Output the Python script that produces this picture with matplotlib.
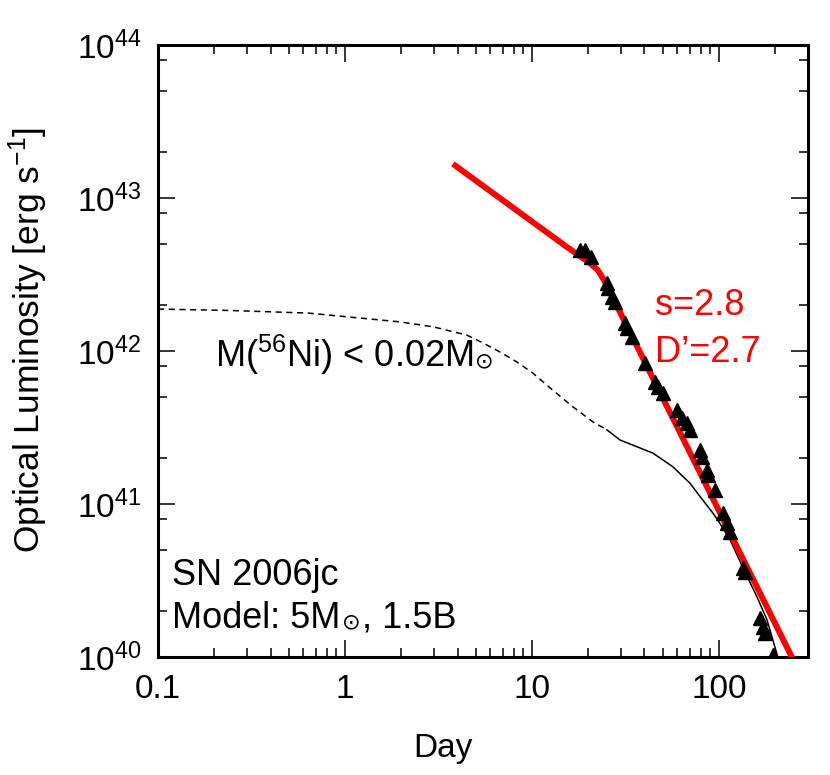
import math
import matplotlib
matplotlib.use("Agg")
import matplotlib.pyplot as plt
from matplotlib.ticker import LogLocator, FixedLocator, FuncFormatter, NullFormatter

plt.rcParams['font.family'] = ['Liberation Sans', 'DejaVu Sans']
plt.rcParams['mathtext.fontset'] = 'custom'
plt.rcParams['mathtext.rm'] = 'Liberation Sans'
plt.rcParams['mathtext.it'] = 'Liberation Sans:italic'
plt.rcParams['mathtext.bf'] = 'Liberation Sans:bold'

# Observed SN 2006jc optical luminosity
obs_day = [18.1, 19.2, 20.7, 25.2, 25.5, 26.8, 28.0, 31.4, 32.2, 34.3, 40.2,
           45.5, 47.2, 50.2, 59.6, 63.4, 67.4, 70.0, 79.1, 81.1, 86.3, 87.3,
           95.2, 105, 110, 115, 134, 138, 166, 172, 176, 194]
obs_lum = [4.57e42, 4.57e42, 4.11e42, 2.78e42, 2.58e42, 2.25e42, 2.09e42,
           1.52e42, 1.41e42, 1.24e42, 8.35e41, 6.27e41, 5.82e41, 5.31e41,
           4.11e41, 3.65e41, 3.38e41, 3.05e41, 2.25e41, 2.03e41, 1.67e41,
           1.55e41, 1.24e41, 8.73e40, 7.52e40, 6.56e40, 3.82e40, 3.60e40,
           1.80e40, 1.57e40, 1.44e40, 1.03e40]

# Radioactive model (dashed: early, solid: late)
model_dash_day = [0.1, 0.243, 0.634, 1.97, 2.96, 4.49, 5.47, 6.75, 8.31,
                  10.1, 12.9, 16.6, 21.2, 25.2]
model_dash_lum = [1.88e42, 1.84e42, 1.77e42, 1.55e42, 1.44e42, 1.27e42,
                  1.13e42, 9.85e41, 8.48e41, 7.18e41, 5.56e41, 4.31e41,
                  3.44e41, 3.05e41]
model_solid_day = [25.2, 29.6, 44.4, 56.8, 70.0, 82.1, 92.9, 101, 115, 134,
                   160, 181, 204, 225]
model_solid_lum = [3.05e41, 2.62e41, 2.15e41, 1.75e41, 1.37e41, 1.06e41,
                   8.73e40, 7.52e40, 5.82e40, 3.88e40, 2.47e40, 1.75e40,
                   1.06e40, 7.1e39]

# Interaction (CSM) fit, broken power law
fit_day = [3.78, 15.4, 20.4, 22.5, 24.3, 260]
fit_lum = [1.67e43, 4.78e42, 3.76e42, 3.38e42, 2.91e42, 8.7e39]

x_ticks = [0.1, 1, 10, 100]
x_ticklabels = ['0.1', '1', '10', '100']
y_ticks = [1e40, 1e41, 1e42, 1e43, 1e44]

fig = plt.figure(figsize=(8.3, 7.75), dpi=100)
ax = fig.add_axes([0.1904, 0.1523, 0.7831, 0.7896])
ax.set_xscale('log')
ax.set_yscale('log')
ax.set_xlim(0.1, 300)
ax.set_ylim(1e40, 1e44)

ax.plot(model_dash_day, model_dash_lum, color='black', lw=1.1,
        dashes=(4, 3), zorder=2)
ax.plot(model_solid_day, model_solid_lum, color='black', lw=1.1, zorder=2)
ax.plot(fit_day, fit_lum, color='#ff0000', lw=4.3, zorder=3,
        solid_joinstyle='round', solid_capstyle='butt')
ax.plot(obs_day, obs_lum, linestyle='none', marker='^', color='black',
        markersize=10, zorder=4)

ax.set_xticks(x_ticks)
ax.set_xticklabels(x_ticklabels)
ax.xaxis.set_minor_locator(LogLocator(base=10, subs=range(2, 10), numticks=20))
ax.xaxis.set_minor_formatter(NullFormatter())
ax.yaxis.set_major_locator(FixedLocator(y_ticks))
ax.yaxis.set_major_formatter(FuncFormatter(
    lambda v, p: r'$\mathregular{10^{%d}}$' % round(math.log10(v))))
ax.yaxis.set_minor_locator(LogLocator(base=10, subs=[2, 5, 8], numticks=20))
ax.yaxis.set_minor_formatter(NullFormatter())

ax.tick_params(which='both', direction='in', top=True, right=True,
               labelsize=24, width=1.1, pad=12)
ax.tick_params(which='major', length=12)
ax.tick_params(which='minor', length=6.5)
for s in ax.spines.values():
    s.set_linewidth(2.2)

ax.set_xlabel('Day', fontsize=24)
ax.xaxis.set_label_coords(0.438, -0.124)
ax.set_ylabel(r'Optical Luminosity [erg s$\mathregular{^{-1}}$]', fontsize=25.5)
ax.yaxis.set_label_coords(-0.166, 0.518)

renderer = fig.canvas.get_renderer()


def seq_text(x, y, parts, **kw):
    """Write text segments one after another on a common baseline."""
    cur = x
    for s, fs in parts:
        t = ax.text(cur, y, s, transform=ax.transAxes, fontsize=fs,
                    va='baseline', ha='left', **kw)
        bb = t.get_window_extent(renderer)
        cur = ax.transAxes.inverted().transform((bb.x1 + 1.5, bb.y0))[0]


sun = '\u2299'
seq_text(0.088, 0.474, [(r'M($\mathregular{^{56}}$Ni) < 0.02M', 26), (sun, 16)])
ax.text(0.0215, 0.1176, 'SN 2006jc', transform=ax.transAxes, fontsize=26,
        va='baseline', ha='left')
seq_text(0.0215, 0.0474, [('Model: 5M', 26), (sun, 16), (', 1.5B', 26)])

ax.text(0.765, 0.575, 's=2.8', transform=ax.transAxes, fontsize=26,
        color='#ff0000', va='center', ha='left')
ax.text(0.765, 0.498, 'D\u2019=2.7', transform=ax.transAxes, fontsize=26,
        color='#ff0000', va='center', ha='left')

fig.savefig('out.png', dpi=100)
